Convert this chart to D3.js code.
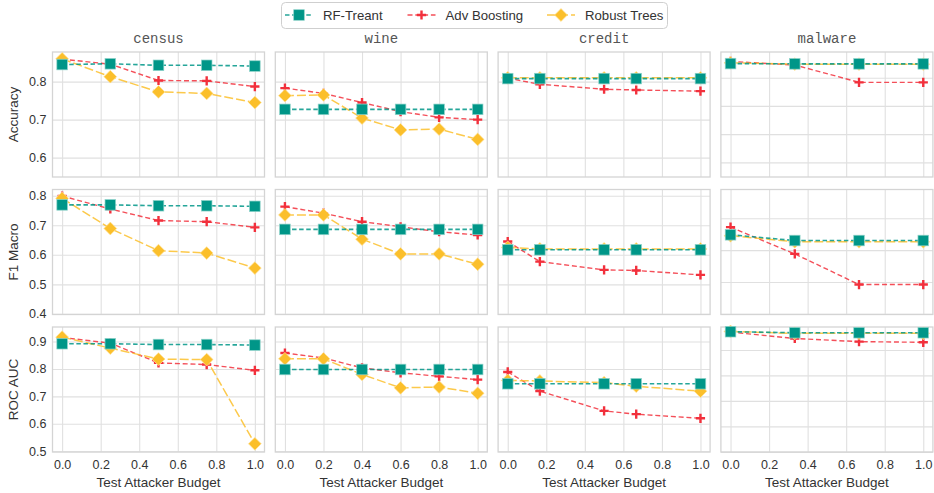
<!DOCTYPE html>
<html><head><meta charset="utf-8">
<script src="https://cdn.jsdelivr.net/npm/d3@7"></script>
<style>body{margin:0;background:#fff}</style>
</head><body>
<svg id="c" width="934" height="493" style="font-family:'Liberation Sans',Arial,sans-serif"></svg>
<script>
// ---------------- DATA ----------------
const datasets = ["census", "wine", "credit", "malware"];
const metrics = ["Accuracy", "F1 Macro", "ROC AUC"];
const seriesNames = ["RF-Treant", "Adv Boosting", "Robust Trees"];
const xLabel = "Test Attacker Budget";

const censusBudgets = [0, 0.25, 0.5, 0.75, 1.0];
const wineBudgets = [0, 0.2, 0.4, 0.6, 0.8, 1.0];
const creditBudgets = [0, 1/6, 0.5, 2/3, 1.0];
const malwareBudgets = [0, 1/3, 2/3, 1.0];
const budgets = [censusBudgets, wineBudgets, creditBudgets, malwareBudgets];

const xTicks = [0, 0.2, 0.4, 0.6, 0.8, 1.0];
const yTicksAcc = [0.6, 0.7, 0.8];
const yTicksF1 = [0.4, 0.5, 0.6, 0.7, 0.8];
const yTicksAuc = [0.5, 0.6, 0.7, 0.8, 0.9];
const malwareTicksAcc = [0.92, 0.94, 0.96, 0.98];
const malwareTicksF1 = [0.6, 0.7, 0.8, 0.9];
const malwareTicksAuc = [0.9, 0.92, 0.94, 0.96, 0.98];

const yLimAcc = [0.549, 0.878];
const yLimF1 = [0.398, 0.821];
const yLimAuc = [0.497, 0.953];
const malwareLimAcc = [0.9096, 0.9982];
const malwareLimF1 = [0.598, 0.99];
const malwareLimAuc = [0.8999, 0.998];

// Accuracy: [census, wine, credit, malware]
const accRF = [
  [0.845, 0.847, 0.843, 0.843, 0.841],
  [0.727, 0.727, 0.727, 0.727, 0.727, 0.727],
  [0.808, 0.808, 0.808, 0.808, 0.808],
  [0.990, 0.9898, 0.9898, 0.9898]
];
const accAdv = [
  [0.859, 0.846, 0.803, 0.802, 0.787],
  [0.783, 0.769, 0.745, 0.721, 0.706, 0.700],
  [0.809, 0.793, 0.780, 0.778, 0.775],
  [0.9915, 0.989, 0.9767, 0.9767]
];
const accRobust = [
  [0.860, 0.813, 0.773, 0.769, 0.745],
  [0.763, 0.765, 0.704, 0.673, 0.675, 0.648],
  [0.810, 0.810, 0.810, 0.810, 0.810],
  [0.9905, 0.9896, 0.9896, 0.9896]
];
// F1 Macro
const f1RF = [
  [0.769, 0.769, 0.766, 0.766, 0.764],
  [0.686, 0.686, 0.686, 0.686, 0.686, 0.686],
  [0.617, 0.617, 0.617, 0.617, 0.617],
  [0.848, 0.830, 0.830, 0.830]
];
const f1Adv = [
  [0.799, 0.755, 0.716, 0.712, 0.693],
  [0.763, 0.741, 0.712, 0.695, 0.678, 0.667],
  [0.645, 0.577, 0.549, 0.547, 0.532],
  [0.872, 0.788, 0.692, 0.692]
];
const f1Robust = [
  [0.791, 0.689, 0.614, 0.606, 0.555],
  [0.735, 0.735, 0.653, 0.603, 0.603, 0.568],
  [0.625, 0.620, 0.620, 0.620, 0.620],
  [0.845, 0.826, 0.826, 0.826]
];
// ROC AUC
const aucRF = [
  [0.892, 0.892, 0.889, 0.889, 0.887],
  [0.798, 0.798, 0.798, 0.798, 0.798, 0.798],
  [0.746, 0.746, 0.746, 0.746, 0.746],
  [0.9943, 0.9935, 0.9935, 0.9935]
];
const aucAdv = [
  [0.915, 0.894, 0.822, 0.816, 0.795],
  [0.858, 0.840, 0.804, 0.786, 0.773, 0.761],
  [0.789, 0.719, 0.647, 0.635, 0.620],
  [0.994, 0.989, 0.9865, 0.986]
];
const aucRobust = [
  [0.916, 0.876, 0.836, 0.834, 0.527],
  [0.837, 0.837, 0.780, 0.731, 0.734, 0.711],
  [0.758, 0.756, 0.750, 0.737, 0.719],
  [0.9945, 0.993, 0.993, 0.993]
];

// ---------------- LAYOUT / STYLE ----------------
const rowData = [
  {rf: accRF, adv: accAdv, robust: accRobust, lim: yLimAcc, ticks: yTicksAcc, mLim: malwareLimAcc, mTicks: malwareTicksAcc},
  {rf: f1RF, adv: f1Adv, robust: f1Robust, lim: yLimF1, ticks: yTicksF1, mLim: malwareLimF1, mTicks: malwareTicksF1},
  {rf: aucRF, adv: aucAdv, robust: aucRobust, lim: yLimAuc, ticks: yTicksAuc, mLim: malwareLimAuc, mTicks: malwareTicksAuc}
];
const colLeft = i => 52.5 + i * 222.8;
const plotW = 212, plotH = 125;
const rowTop = [52, 189.5, 327];
const sansFont = "'Liberation Sans', Arial, sans-serif";
const monoFont = "'Liberation Mono', 'DejaVu Sans Mono', monospace";

const style = {
  "RF-Treant":   {color: "#009688", dash: "4.5,2.6", width: 1.6, marker: "square"},
  "Adv Boosting": {color: "#f2303c", dash: "5,2.8", width: 1.4, marker: "plus"},
  "Robust Trees": {color: "#fbbf2b", dash: "9,3", width: 1.5, marker: "diamond"}
};
const gridColor = "#e0e0e0", borderColor = "#d4d4d4", textColor = "#333";

const svg = d3.select("#c");

function drawMarker(g, type, cx, cy, color) {
  if (type === "square") {
    g.append("rect").attr("x", cx - 5.3).attr("y", cy - 5.3).attr("width", 10.6).attr("height", 10.6)
      .attr("fill", color).attr("stroke", "#8fd3ca").attr("stroke-width", 0.7);
  } else if (type === "diamond") {
    const r = 6.4;
    g.append("path").attr("d", `M${cx},${cy - r}L${cx + r},${cy}L${cx},${cy + r}L${cx - r},${cy}Z`)
      .attr("fill", color).attr("stroke", "#ffe39a").attr("stroke-width", 0.7);
  } else {
    const r = 4.6;
    g.append("path").attr("d", `M${cx - r},${cy}H${cx + r}M${cx},${cy - r}V${cy + r}`)
      .attr("stroke", color).attr("stroke-width", 2.4).attr("fill", "none");
  }
}

for (let r = 0; r < 3; r++) {
  const rd = rowData[r];
  for (let c = 0; c < 4; c++) {
    const left = colLeft(c), top = rowTop[r];
    const x = d3.scaleLinear().domain([-0.05, 1.05]).range([left, left + plotW]);
    const isMal = c === 3;
    const y = d3.scaleLinear().domain(isMal ? rd.mLim : rd.lim).range([top + plotH, top]);
    const g = svg.append("g");
    g.append("rect").attr("x", left).attr("y", top).attr("width", plotW).attr("height", plotH).attr("fill", "#fff");

    // x grid + labels
    const xa = d3.axisBottom(x).tickValues(xTicks).tickSize(-plotH).tickPadding(8)
      .tickFormat(r === 2 ? d3.format(".1f") : () => "");
    const gx = g.append("g").attr("transform", `translate(0,${top + plotH})`).call(xa);
    gx.select(".domain").remove();
    gx.selectAll("line").attr("stroke", gridColor).attr("stroke-width", 1.1);
    gx.selectAll("text").attr("fill", textColor).style("font-size", "12.5px").style("font-family", sansFont);

    // y grid + labels
    const yt = (isMal ? rd.mTicks : rd.ticks);
    const ya = d3.axisLeft(y).tickValues(yt).tickSize(-plotW).tickPadding(6)
      .tickFormat(c === 0 ? d3.format(".1f") : () => "");
    const gy = g.append("g").attr("transform", `translate(${left},0)`).call(ya);
    gy.select(".domain").remove();
    gy.selectAll("line").attr("stroke", gridColor).attr("stroke-width", 1.1);
    gy.selectAll("text").attr("fill", textColor).style("font-size", "12.5px").style("font-family", sansFont);

    g.append("rect").attr("x", left).attr("y", top).attr("width", plotW).attr("height", plotH)
      .attr("fill", "none").attr("stroke", borderColor).attr("stroke-width", 1.3);

    // series: draw order Adv, Robust, RF
    const order = [["Adv Boosting", rd.adv], ["Robust Trees", rd.robust], ["RF-Treant", rd.rf]];
    order.forEach(([name, arr]) => {
      const st = style[name];
      const vals = arr[c];
      const pts = budgets[c].map((b, i) => [b, vals[i]]);
      const line = d3.line().x(d => x(d[0])).y(d => y(d[1]));
      g.append("path").attr("d", line(pts)).attr("fill", "none").attr("stroke", st.color)
        .attr("stroke-width", st.width).attr("stroke-dasharray", st.dash).attr("opacity", 0.85);
      pts.forEach(p => drawMarker(g, st.marker, x(p[0]), y(p[1]), st.color));
    });

    if (r === 0) {
      svg.append("text").attr("x", left + plotW / 2).attr("y", top - 9).attr("text-anchor", "middle")
        .style("font-family", monoFont).style("font-size", "14px")
        .attr("fill", "#555").text(datasets[c]);
    }
    if (r === 2) {
      svg.append("text").attr("x", left + plotW / 2).attr("y", 487).attr("text-anchor", "middle")
        .style("font-family", sansFont).style("font-size", "13.5px").attr("fill", textColor).text(xLabel);
    }
  }
  svg.append("text").attr("transform", `translate(18,${rowTop[r] + plotH / 2}) rotate(-90)`)
    .attr("text-anchor", "middle").style("font-family", sansFont).style("font-size", "13.5px")
    .attr("fill", textColor).text(metrics[r]);
}

// legend
const lg = svg.append("g");
lg.append("rect").attr("x", 281.5).attr("y", 2.5).attr("width", 386).attr("height", 26).attr("rx", 4)
  .attr("fill", "#fff").attr("stroke", "#cfcfcf").attr("stroke-width", 1);
const legendCenters = [299, 421.5, 561];
seriesNames.forEach((name, i) => {
  const st = style[name], cx = legendCenters[i], cy = 15;
  lg.append("line").attr("x1", cx - 14).attr("x2", cx + 14).attr("y1", cy).attr("y2", cy)
    .attr("stroke", st.color).attr("stroke-width", st.width).attr("stroke-dasharray", st.dash).attr("opacity", 0.85);
  drawMarker(lg, st.marker, cx, cy, st.color);
  lg.append("text").attr("x", cx + 24).attr("y", cy + 4.5).style("font-family", sansFont)
    .style("font-size", "13.2px").attr("fill", textColor).text(name);
});
</script>
</body></html>
